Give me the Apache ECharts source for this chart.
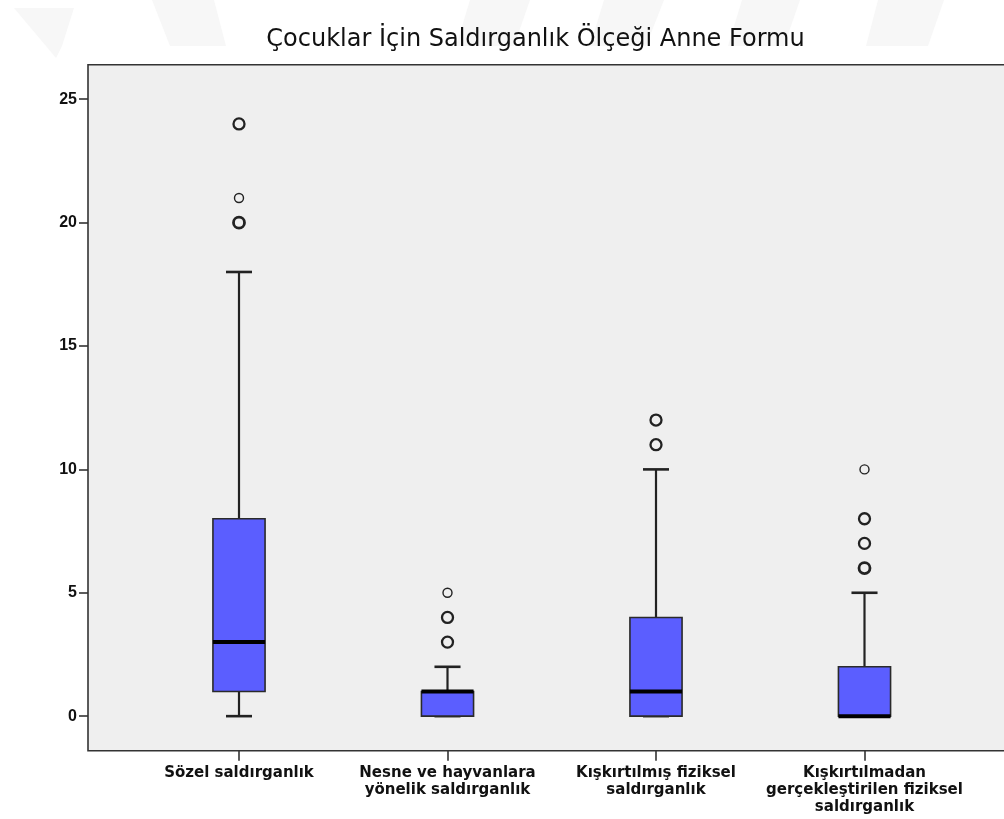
<!DOCTYPE html>
<html>
<head>
<meta charset="utf-8">
<title>Çocuklar İçin Saldırganlık Ölçeği Anne Formu</title>
<script src="https://cdn.jsdelivr.net/npm/echarts@6/dist/echarts.min.js"></script>
<style>
  html, body { margin: 0; padding: 0; background: #fff; }
  #chart { width: 1004px; height: 819px; }
</style>
</head>
<body>
<div id="chart"></div>
<script>
// box plot summary per scale
var categories = [
  'Sözel saldırganlık',
  'Nesne ve hayvanlara\nyönelik saldırganlık',
  'Kışkırtılmış fiziksel\nsaldırganlık',
  'Kışkırtılmadan\ngerçekleştirilen fiziksel\nsaldırganlık'
];
var whiskerLow = [0, 0, 0, 0];
var q1 = [1, 0, 0, 0];
var median = [3, 1, 1, 0];
var q3 = [8, 1, 4, 2];
var whiskerHigh = [18, 2, 10, 5];

// outliers (category index, value, how many cases overlap)
var outlierCategory = [0, 0, 0, 1, 1, 1, 2, 2, 3, 3, 3, 3];
var outlierValue = [20, 21, 24, 3, 4, 5, 11, 12, 6, 7, 8, 10];
var outlierCases = [3, 1, 2, 2, 2, 1, 2, 2, 3, 2, 2, 1];

var yTicks = [0, 5, 10, 15, 20, 25];

(function () {
  var chart = echarts.init(document.getElementById('chart'), null, { renderer: 'canvas' });
  var ink = '#111';
  var line = '#222';

  var boxData = categories.map(function (c, i) {
    return [i, whiskerLow[i], q1[i], median[i], q3[i], whiskerHigh[i]];
  });

  var outliers = outlierCategory.map(function (c, k) {
    var n = outlierCases[k];
    return {
      value: [c, outlierValue[k], n],
      symbolSize: n > 1 ? 11 : 9,
      itemStyle: { borderWidth: n > 2 ? 2.8 : (n > 1 ? 2.3 : 1.4) }
    };
  });

  function renderBox(params, api) {
    var i = api.value(0);
    var band = api.size([1, 0])[0];
    var half = band * 0.125;
    var cap = band * 0.0625;
    var x = api.coord([i, 0])[0];
    var yLow = api.coord([i, api.value(1)])[1];
    var yQ1 = api.coord([i, api.value(2)])[1];
    var yMed = api.coord([i, api.value(3)])[1];
    var yQ3 = api.coord([i, api.value(4)])[1];
    var yHigh = api.coord([i, api.value(5)])[1];
    var stroke = { stroke: line, lineWidth: 2.2 };
    return {
      type: 'group',
      children: [
        { type: 'line', shape: { x1: x, y1: yQ3, x2: x, y2: yHigh }, style: stroke },
        { type: 'line', shape: { x1: x, y1: yQ1, x2: x, y2: yLow }, style: stroke },
        { type: 'line', shape: { x1: x - cap, y1: yHigh, x2: x + cap, y2: yHigh }, style: { stroke: line, lineWidth: 2.6 } },
        { type: 'line', shape: { x1: x - cap, y1: yLow, x2: x + cap, y2: yLow }, style: { stroke: line, lineWidth: 2.6 } },
        {
          type: 'rect',
          shape: { x: x - half, y: yQ3, width: half * 2, height: yQ1 - yQ3 },
          style: { fill: '#5b5eff', stroke: '#2a2a2a', lineWidth: 1.6 }
        },
        { type: 'line', shape: { x1: x - half, y1: yMed, x2: x + half, y2: yMed }, style: { stroke: '#000', lineWidth: 4 } }
      ]
    };
  }

  // faint watermark strokes at the top of the page
  var marks = [
    [[14, 8], [74, 8], [62, 46], [56, 58], [46, 46]],
    [[152, 0], [214, 0], [226, 46], [170, 46]],
    [[470, 0], [530, 0], [514, 46], [456, 46]],
    [[604, 0], [664, 0], [646, 46], [590, 46]],
    [[742, 0], [800, 0], [784, 46], [728, 46]],
    [[878, 0], [944, 0], [928, 46], [866, 46]]
  ];

  chart.setOption({
    animation: false,
    backgroundColor: '#fff',
    graphic: marks.map(function (pts) {
      return { type: 'polygon', z: -1, silent: true, shape: { points: pts }, style: { fill: '#f7f7f7' } };
    }),
    title: {
      text: 'Çocuklar İçin Saldırganlık Ölçeği Anne Formu',
      left: 535.5,
      top: 28,
      padding: 0,
      textAlign: 'center',
      textStyle: { fontFamily: 'DejaVu Sans', fontSize: 24, fontWeight: 'normal', color: ink }
    },
    grid: [
      { left: 134.75, right: 35.25, top: 64.7, bottom: 68.3, show: false, outerBoundsMode: 'none' },
      {
        left: 88, width: 930, top: 64.7, bottom: 68.3, outerBoundsMode: 'none',
        show: true, backgroundColor: '#efefef', borderColor: '#333', borderWidth: 1.6
      }
    ],
    xAxis: [
      {
        type: 'category',
        gridIndex: 0,
        data: categories,
        boundaryGap: true,
        axisLine: { show: false, onZero: false },
        axisTick: { show: true, alignWithLabel: true, length: 10, lineStyle: { color: '#333', width: 1.6 } },
        axisLabel: {
          interval: 0, margin: 14, color: ink,
          fontFamily: 'DejaVu Sans', fontWeight: 'bold', fontSize: 15, lineHeight: 17
        },
        splitLine: { show: false }
      },
      { type: 'value', gridIndex: 1, show: false }
    ],
    yAxis: [
      {
        type: 'value',
        gridIndex: 0,
        min: -1.4,
        max: 26.4,
        offset: 46.75,
        axisLine: { show: false },
        axisTick: { show: true, length: 9, customValues: yTicks, lineStyle: { color: '#333', width: 1.6 } },
        axisLabel: {
          customValues: yTicks, margin: 11, color: ink,
          fontFamily: 'Liberation Sans', fontWeight: 'bold', fontSize: 16
        },
        splitLine: { show: false }
      },
      { type: 'value', gridIndex: 1, show: false }
    ],
    series: [
      {
        type: 'custom',
        xAxisIndex: 0,
        yAxisIndex: 0,
        renderItem: renderBox,
        encode: { x: 0, y: [1, 2, 3, 4, 5] },
        data: boxData,
        z: 3
      },
      {
        type: 'scatter',
        xAxisIndex: 0,
        yAxisIndex: 0,
        symbol: 'circle',
        itemStyle: { color: '#efefef', borderColor: line, opacity: 1 },
        data: outliers,
        z: 4
      }
    ]
  });

  window.addEventListener('resize', function () { chart.resize(); });
})();
</script>
</body>
</html>
